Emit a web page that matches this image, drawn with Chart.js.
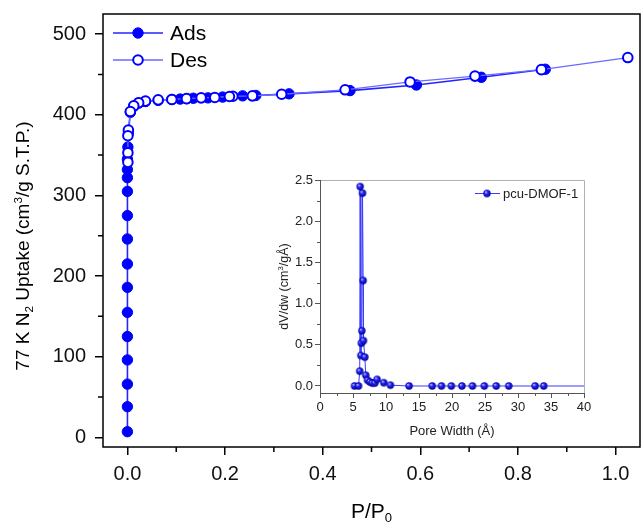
<!DOCTYPE html>
<html>
<head>
<meta charset="utf-8">
<script src="https://cdn.jsdelivr.net/npm/chart.js@4.4.1/dist/chart.umd.min.js"></script>
<style>
  html, body { margin: 0; padding: 0; background: #fff; }
  #wrap { position: relative; width: 641px; height: 526px; }
  #main { position: absolute; left: 0; top: 0; }
  #inset { position: absolute; left: 270px; top: 170px; }
</style>
</head>
<body>
<div id="wrap">
  <canvas id="main" width="641" height="526"></canvas>
  <canvas id="inset" width="325" height="270"></canvas>
</div>
<script>
const FONT = '"Liberation Sans", Arial, Helvetica, sans-serif';

// N2 isotherm at 77 K: adsorption branch
const adsP = [0, 0, 0, 0, 0, 0, 0, 0, 0, 0, 0, 0, 0, 0, 0.001,
              0.002, 0.006, 0.013, 0.023, 0.037, 0.063, 0.091,
              0.108, 0.122, 0.135, 0.165, 0.195, 0.236, 0.263, 0.331, 0.456, 0.592, 0.725, 0.856];
const adsV = [7, 38, 66, 96, 125, 155, 186, 215, 246, 275, 305, 322, 332, 345, 360,
              377, 403, 410.5, 414.5, 416.5, 418, 419,
              419.5, 420, 420.5, 421, 422, 423.5, 424, 426, 430, 437, 446.5, 456.5];

// desorption branch
const desP = [1.025, 0.848, 0.712, 0.579, 0.446, 0.316, 0.256, 0.216, 0.209, 0.179, 0.151,
              0.121, 0.091, 0.063, 0.037, 0.023, 0.013, 0.006, 0.002, 0.001, 0.001, 0.001];
const desV = [471, 456, 448, 440.7, 431, 425.5, 423.5, 423, 422.7, 421.5, 421,
              420, 419, 418.5, 417, 415, 411, 404, 381, 374, 353, 341];

// pore size distribution
const poreW = [5.23, 5.84, 6.02, 6.08, 6.19, 6.26, 6.34, 6.44, 6.54, 6.59, 6.79, 6.94, 7.2, 7.55,
               7.9, 8.3, 8.65, 9.66, 10.67, 13.5, 17.0, 18.4, 19.9, 21.5, 23.1, 24.9, 26.7,
               28.6, 32.6, 33.9, 41.6];
const dVdw  = [0, 0, 0.18, 2.42, 0.37, 0.52, 0.67, 2.34, 1.28, 0.55, 0.35, 0.13, 0.07, 0.05,
               0.035, 0.035, 0.08, 0.04, 0.01, 0, 0, 0, 0, 0, 0, 0, 0,
               0, 0, 0, 0];

const xTicks = [0, 0.2, 0.4, 0.6, 0.8, 1.0];
const xMinor = [0.1, 0.3, 0.5, 0.7, 0.9];
const yTicks = [0, 100, 200, 300, 400, 500];
const yMinor = [50, 150, 250, 350, 450];

const inXTicks = [0, 5, 10, 15, 20, 25, 30, 35, 40];
const inXMinor = [2.5, 7.5, 12.5, 17.5, 22.5, 27.5, 32.5, 37.5];
const inYTicks = [0, 0.5, 1.0, 1.5, 2.0, 2.5];
const inYMinor = [0.25, 0.75, 1.25, 1.75, 2.25];

const toXY = (xs, ys) => xs.map((x, i) => ({ x: x, y: ys[i] }));

// axes keep their exact size; no extra room reserved for edge labels
function fixSize(prop, size) {
  return s => {
    s[prop] = size;
    s.paddingLeft = 0; s.paddingRight = 0; s.paddingTop = 0; s.paddingBottom = 0;
  };
}

function drawRich(ctx, parts, cx, cy, size, rot, color) {
  ctx.save();
  ctx.translate(cx, cy);
  ctx.rotate(rot);
  ctx.fillStyle = color;
  ctx.textBaseline = 'middle';
  ctx.textAlign = 'left';
  const small = size * 0.62;
  let w = 0;
  parts.forEach(p => {
    ctx.font = (p.s ? small : size) + 'px ' + FONT;
    p.w = ctx.measureText(p.t).width;
    w += p.w;
  });
  let x = -w / 2;
  parts.forEach(p => {
    ctx.font = (p.s ? small : size) + 'px ' + FONT;
    const dy = p.s === 'sub' ? size * 0.32 : p.s === 'sup' ? -size * 0.3 : 0;
    ctx.fillText(p.t, x, dy);
    x += p.w;
  });
  ctx.restore();
}

// shaded ball marker for the pore size curve
function makeSphere(r) {
  const c = document.createElement('canvas');
  const s = Math.ceil(r * 2 + 2);
  c.width = s; c.height = s;
  const g = c.getContext('2d');
  const m = s / 2;
  const grad = g.createRadialGradient(m - r * 0.35, m - r * 0.4, r * 0.1, m, m, r);
  grad.addColorStop(0, '#b4b4ff');
  grad.addColorStop(0.4, '#2323ff');
  grad.addColorStop(1, '#000090');
  g.fillStyle = grad;
  g.beginPath();
  g.arc(m, m, r, 0, Math.PI * 2);
  g.fill();
  return c;
}
const sphere = makeSphere(3.7);

// ---------- main isotherm ----------
const mainDecor = {
  id: 'mainDecor',
  beforeDraw(chart) {
    const ctx = chart.ctx;
    ctx.save();
    ctx.fillStyle = '#fff';
    ctx.fillRect(0, 0, chart.width, chart.height);
    ctx.restore();
  },
  afterDraw(chart) {
    const ctx = chart.ctx;
    const a = chart.chartArea;
    const xs = chart.scales.x, ys = chart.scales.y;
    ctx.save();
    ctx.strokeStyle = '#000';
    ctx.lineWidth = 1.5;
    ctx.strokeRect(a.left, a.top, a.right - a.left, a.bottom - a.top);
    // minor ticks
    ctx.beginPath();
    xMinor.forEach(v => {
      const px = xs.getPixelForValue(v);
      ctx.moveTo(px, a.bottom); ctx.lineTo(px, a.bottom + 5);
    });
    yMinor.forEach(v => {
      const py = ys.getPixelForValue(v);
      ctx.moveTo(a.left, py); ctx.lineTo(a.left - 5, py);
    });
    ctx.stroke();
    ctx.restore();

    // axis titles
    drawRich(ctx, [{ t: 'P/P' }, { t: '0', s: 'sub' }], (a.left + a.right) / 2, 512, 21, 0, '#000');
    drawRich(ctx, [{ t: '77 K N' }, { t: '2', s: 'sub' }, { t: ' Uptake (cm' }, { t: '3', s: 'sup' },
                   { t: '/g S.T.P.)' }], 24, 246, 19, -Math.PI / 2, '#000');

    // legend with line + marker samples
    const rows = [33, 60];
    chart.data.datasets.forEach((ds, i) => {
      const y = rows[i];
      ctx.save();
      ctx.strokeStyle = ds.borderColor;
      ctx.lineWidth = ds.borderWidth;
      ctx.beginPath();
      ctx.moveTo(113, y); ctx.lineTo(163, y);
      ctx.stroke();
      ctx.beginPath();
      ctx.arc(138, y, ds.pointRadius, 0, Math.PI * 2);
      ctx.fillStyle = ds.pointBackgroundColor;
      ctx.fill();
      ctx.lineWidth = ds.pointBorderWidth;
      ctx.strokeStyle = ds.pointBorderColor;
      ctx.stroke();
      ctx.fillStyle = '#000';
      ctx.font = '21px ' + FONT;
      ctx.textBaseline = 'middle';
      ctx.textAlign = 'left';
      ctx.fillText(ds.label, 170, y + 1);
      ctx.restore();
    });
  }
};

new Chart(document.getElementById('main'), {
  type: 'scatter',
  data: {
    datasets: [
      {
        label: 'Ads', data: toXY(adsP, adsV), showLine: true,
        borderColor: '#2424ff', borderWidth: 1.6,
        pointRadius: 5.2, pointBackgroundColor: '#0000ff', pointBorderColor: '#0000ff',
        pointBorderWidth: 1, order: 1
      },
      {
        label: 'Des', data: toXY(desP, desV), showLine: true,
        borderColor: '#6a6aff', borderWidth: 1.3,
        pointRadius: 4.8, pointBackgroundColor: '#ffffff', pointBorderColor: '#0000ff',
        pointBorderWidth: 2, order: 0
      }
    ]
  },
  options: {
    responsive: false, animation: false, devicePixelRatio: 1,
    layout: { autoPadding: false, padding: { top: 14, right: 1, left: 0, bottom: 0 } },
    plugins: { legend: { display: false }, tooltip: { enabled: false } },
    scales: {
      x: {
        type: 'linear', min: -0.05, max: 1.05,
        afterBuildTicks: s => { s.ticks = xTicks.map(v => ({ value: v })); },
        afterFit: fixSize('height', 79),
        ticks: {
          font: { family: FONT, size: 20 }, color: '#111', padding: 7,
          autoSkip: false, maxRotation: 0, callback: v => Number(v).toFixed(1)
        },
        grid: { display: true, drawOnChartArea: false, drawTicks: true, tickLength: 8, color: '#000', lineWidth: 1.5 },
        border: { display: false }
      },
      y: {
        type: 'linear', min: -12, max: 525,
        afterBuildTicks: s => { s.ticks = yTicks.map(v => ({ value: v })); },
        afterFit: fixSize('width', 103),
        ticks: {
          font: { family: FONT, size: 20 }, color: '#111', padding: 9,
          autoSkip: false, callback: v => String(v)
        },
        grid: { display: true, drawOnChartArea: false, drawTicks: true, tickLength: 8, color: '#000', lineWidth: 1.5 },
        border: { display: false }
      }
    }
  },
  plugins: [mainDecor]
});

// ---------- inset: pore size distribution ----------
const insetDecor = {
  id: 'insetDecor',
  afterDraw(chart) {
    const ctx = chart.ctx;
    const a = chart.chartArea;
    const xs = chart.scales.x, ys = chart.scales.y;
    ctx.save();
    ctx.lineWidth = 1;
    ctx.strokeStyle = '#b0b0b0';
    ctx.beginPath();
    ctx.moveTo(a.left, a.top + 0.5); ctx.lineTo(a.right + 0.5, a.top + 0.5);
    ctx.lineTo(a.right + 0.5, a.bottom);
    ctx.stroke();
    ctx.strokeStyle = '#555';
    ctx.beginPath();
    ctx.moveTo(a.left + 0.5, a.top); ctx.lineTo(a.left + 0.5, a.bottom + 0.5);
    ctx.lineTo(a.right + 0.5, a.bottom + 0.5);
    inXMinor.forEach(v => {
      const px = Math.round(xs.getPixelForValue(v)) + 0.5;
      ctx.moveTo(px, a.bottom); ctx.lineTo(px, a.bottom + 3);
    });
    inYMinor.forEach(v => {
      const py = Math.round(ys.getPixelForValue(v)) + 0.5;
      ctx.moveTo(a.left, py); ctx.lineTo(a.left - 3, py);
    });
    ctx.stroke();
    ctx.restore();

    drawRich(ctx, [{ t: 'Pore Width (Å)' }], (a.left + a.right) / 2, 261, 13, 0, '#222');
    drawRich(ctx, [{ t: 'dV/dw (cm' }, { t: '3', s: 'sup' }, { t: '/gÅ)' }], 15, (a.top + a.bottom) / 2, 12.5, -Math.PI / 2, '#222');

    // legend
    const ds = chart.data.datasets[0];
    ctx.save();
    ctx.strokeStyle = ds.borderColor;
    ctx.lineWidth = 1;
    ctx.beginPath();
    ctx.moveTo(205, 23.5); ctx.lineTo(230, 23.5);
    ctx.stroke();
    ctx.drawImage(sphere, 217 - sphere.width / 2, 23.5 - sphere.height / 2);
    ctx.fillStyle = '#222';
    ctx.font = '13px ' + FONT;
    ctx.textBaseline = 'middle';
    ctx.textAlign = 'left';
    ctx.fillText(ds.label, 233, 24);
    ctx.restore();
  }
};

new Chart(document.getElementById('inset'), {
  type: 'scatter',
  data: {
    datasets: [{
      label: 'pcu-DMOF-1', data: toXY(poreW, dVdw), showLine: true,
      borderColor: '#3c3cff', borderWidth: 1,
      pointStyle: sphere, pointRadius: 3.7
    }]
  },
  options: {
    responsive: false, animation: false, devicePixelRatio: 1,
    layout: { autoPadding: false, padding: { top: 10, right: 11, left: 0, bottom: 0 } },
    plugins: { legend: { display: false }, tooltip: { enabled: false } },
    scales: {
      x: {
        type: 'linear', min: 0, max: 40,
        afterBuildTicks: s => { s.ticks = inXTicks.map(v => ({ value: v })); },
        afterFit: fixSize('height', 47),
        ticks: { font: { family: FONT, size: 13 }, color: '#222', padding: 2, autoSkip: false, maxRotation: 0,
                 callback: v => String(v) },
        grid: { display: true, drawOnChartArea: false, drawTicks: true, tickLength: 5, color: '#555', lineWidth: 1 },
        border: { display: false }
      },
      y: {
        type: 'linear', min: -0.085, max: 2.5,
        afterBuildTicks: s => { s.ticks = inYTicks.map(v => ({ value: v })); },
        afterFit: fixSize('width', 50),
        ticks: { font: { family: FONT, size: 13 }, color: '#222', padding: 2, autoSkip: false,
                 callback: v => Number(v).toFixed(1) },
        grid: { display: true, drawOnChartArea: false, drawTicks: true, tickLength: 5, color: '#555', lineWidth: 1 },
        border: { display: false }
      }
    }
  },
  plugins: [insetDecor]
});
</script>
</body>
</html>
